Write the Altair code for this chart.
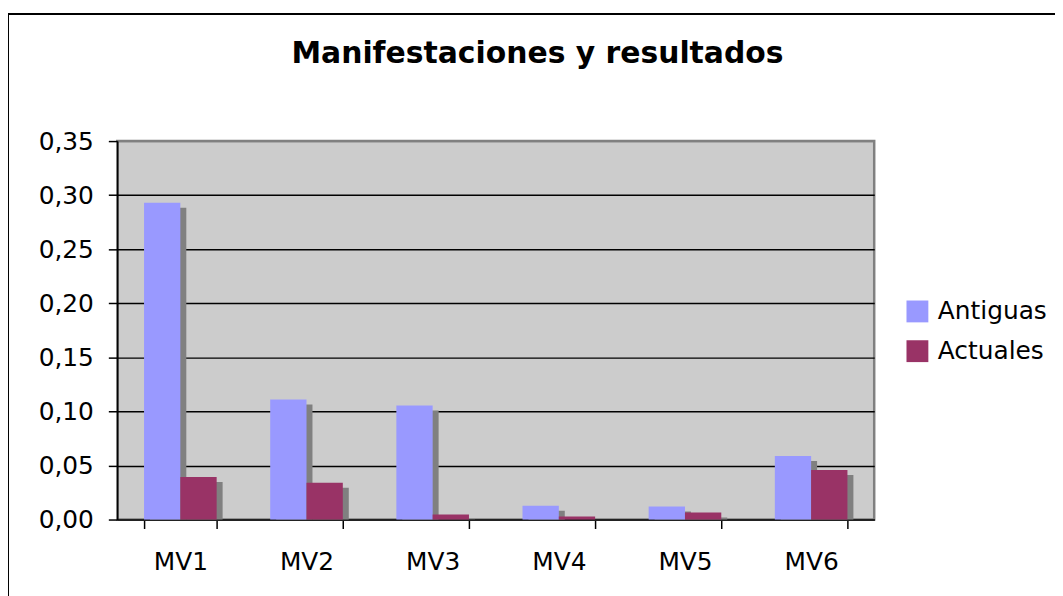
import altair as alt
import pandas as pd

categories = ["MV1", "MV2", "MV3", "MV4", "MV5", "MV6"]
antiguas = [0.293, 0.111, 0.1055, 0.0128, 0.0120, 0.0587]
actuales = [0.0394, 0.0340, 0.0046, 0.0028, 0.0064, 0.0459]
series = ["Antiguas", "Actuales"]
colors = ["#9999FF", "#993366"]
y_ticks = [0.0, 0.05, 0.10, 0.15, 0.20, 0.25, 0.30, 0.35]

rows = []
for c, a, b in zip(categories, antiguas, actuales):
    rows.append({"cat": c, "serie": "Antiguas", "valor": a})
    rows.append({"cat": c, "serie": "Actuales", "valor": b})
df = pd.DataFrame(rows)

W, H = 762, 381
FONT = "DejaVu Sans"
P_IN = 0.4244
BANDW = W / 6 * (1 - P_IN)

x_enc = alt.X(
    "cat:N", sort=categories,
    scale=alt.Scale(paddingInner=P_IN, paddingOuter=P_IN / 2),
    axis=alt.Axis(title=None, tickBand="extent", labelAngle=0, labelFont=FONT,
                  labelFontSize=25, labelColor="black", labelPadding=21,
                  tickSize=9, tickColor="black", tickWidth=1.5,
                  domainColor="#222222", domainWidth=2, grid=False),
)
y_enc = alt.Y(
    "valor:Q",
    scale=alt.Scale(domain=[0, 0.35], nice=False, zero=True),
    axis=alt.Axis(title=None, values=y_ticks,
                  labelExpr="replace(format(datum.value, '.2f'), '.', ',')",
                  labelFont=FONT, labelFontSize=25, labelColor="black",
                  labelPadding=15, tickSize=9, tickColor="black", tickWidth=1.5,
                  domainColor="black", domainWidth=1.5,
                  grid=True,
                  gridColor={"condition": {"test": "datum.value >= 0.349", "value": "#808080"},
                             "value": "black"},
                  gridWidth=1.5),
)

shadow = alt.Chart(df).mark_bar(color="#808080", yOffset=5, clip=True).encode(
    x=x_enc, y=y_enc,
    xOffset=alt.XOffset("serie:N", sort=series,
                        scale=alt.Scale(domain=series, paddingInner=0, paddingOuter=0,
                                        range=[6, 6 + BANDW])),
)
bars = alt.Chart(df).mark_bar().encode(
    x=x_enc, y=y_enc,
    xOffset=alt.XOffset("serie:N", sort=series,
                        scale=alt.Scale(domain=series, paddingInner=0, paddingOuter=0,
                                        range=[0, BANDW])),
    color=alt.Color("serie:N", sort=series,
                    scale=alt.Scale(domain=series, range=colors),
                    legend=alt.Legend(title=None, orient="none", legendX=793, legendY=159,
                                      symbolType="square", symbolSize=484,
                                      symbolStrokeWidth=0, symbolOpacity=1,
                                      labelFont=FONT, labelFontSize=25, labelColor="black",
                                      labelOffset=8, rowPadding=14)),
)

border_df = pd.DataFrame({"k": [0]})
border = alt.Chart(border_df).mark_rect(fill=None, stroke="black", strokeWidth=2, clip=False).encode(
    x=alt.value(-110), x2=alt.value(1200), y=alt.value(-128), y2=alt.value(700)
)

chart = alt.layer(border, shadow, bars).resolve_scale(xOffset="independent").properties(
    width=W, height=H,
    title=alt.TitleParams("Manifestaciones y resultados", font=FONT, fontSize=30,
                          fontWeight="bold", color="black", anchor="middle",
                          dx=42, offset=-56),
    autosize=alt.AutoSizeParams(type="none"),
    padding={"left": 110, "top": 132, "right": 182, "bottom": 75},
    background="white",
).configure_view(fill="#CCCCCC", stroke="#808080", strokeWidth=2.5)

chart.save("out.html", embed_options={"renderer": "svg", "actions": False})
